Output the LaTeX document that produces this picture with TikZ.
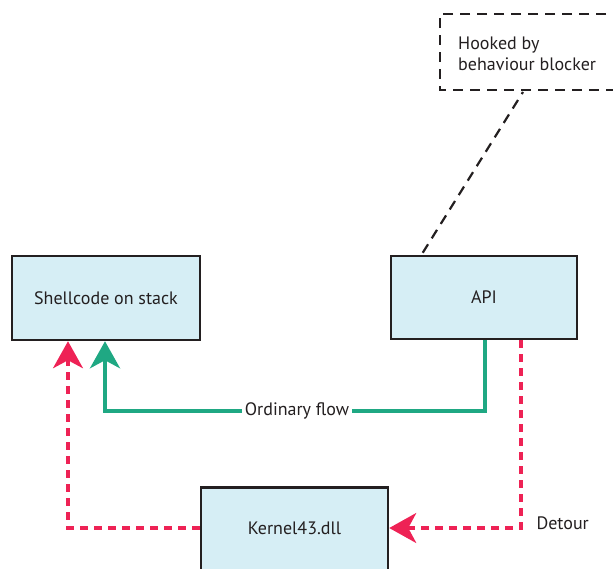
\documentclass[tikz,border=0pt]{standalone}
\usepackage{fontspec}
\setmainfont{PT Sans}
\usetikzlibrary{arrows.meta}
\definecolor{boxfill}{HTML}{D6EEF5}
\definecolor{boxline}{HTML}{231F20}
\definecolor{flowgreen}{HTML}{1FA883}
\definecolor{detourred}{HTML}{EE2255}
\newcommand{\labelfont}{\fontsize{18}{21}\selectfont}
\tikzset{
  block/.style={draw=boxline, fill=boxfill, line width=2.5pt, inner sep=0pt,
    font=\labelfont, text=boxline},
  note/.style={draw=boxline, line width=2.2pt, dash pattern=on 10pt off 7pt},
  ordinary/.style={draw=flowgreen, line width=4pt,
    -{Stealth[length=27pt, width=30pt, inset=8pt]}},
  detour/.style={draw=detourred, line width=3.2pt, dash pattern=on 8pt off 6pt,
    -{Stealth[length=27pt, width=30pt, inset=8pt, fill=detourred]}},
  lbl/.style={font=\labelfont, text=boxline, fill=white, inner sep=3pt},
}
\begin{document}
\begin{tikzpicture}[x=1pt, y=-1pt]
\useasboundingbox (0,0) rectangle (613,568);
\clip (0,0) rectangle (613,568);

% boxes
\node[block, minimum width=188pt, minimum height=84pt] (shell) at (106,298) {Shellcode on stack};
\node[block, minimum width=186pt, minimum height=83pt] (api) at (484,297.5) {API};
\node[block, minimum width=187pt, minimum height=120pt, anchor=north] (kernel) at (294.5,486) {};
\node[font=\labelfont, text=boxline] at (294.5,528) {Kernel43.dll};

% hooked note, runs off the right edge
\draw[note] (640,14) -- (440,14) -- (440,90) -- (640,90);
\node[anchor=west, align=left, inner sep=0pt, font=\fontsize{18}{21}\selectfont, text=boxline]
  (hook) at (458,53.5) {Hooked by\\behaviour blocker};
\coordinate (hookfoot) at (523,92);
\draw[note] (api.north west) ++(33,-2) coordinate (apitop) -- (hookfoot);

% ordinary flow
\coordinate (g1) at (485,411);
\coordinate (g2) at (105,411);
\draw[ordinary] (api.south -| g1) -- (g1) -- (g2) -- (shell.south -| g2);
\node[lbl] (ord) at (297,411) {Ordinary flow};

% detour
\coordinate (r1) at (521,528);
\coordinate (r2) at (68,528);
\draw[detour] (api.south -| r1) -- (r1) -- (kernel.east |- r1);
\node[font=\labelfont, text=boxline, anchor=west] (det) at (533,523) {Detour};
\draw[detour] (kernel.west |- r2) -- (r2) -- (shell.south -| r2);
\end{tikzpicture}
\end{document}
